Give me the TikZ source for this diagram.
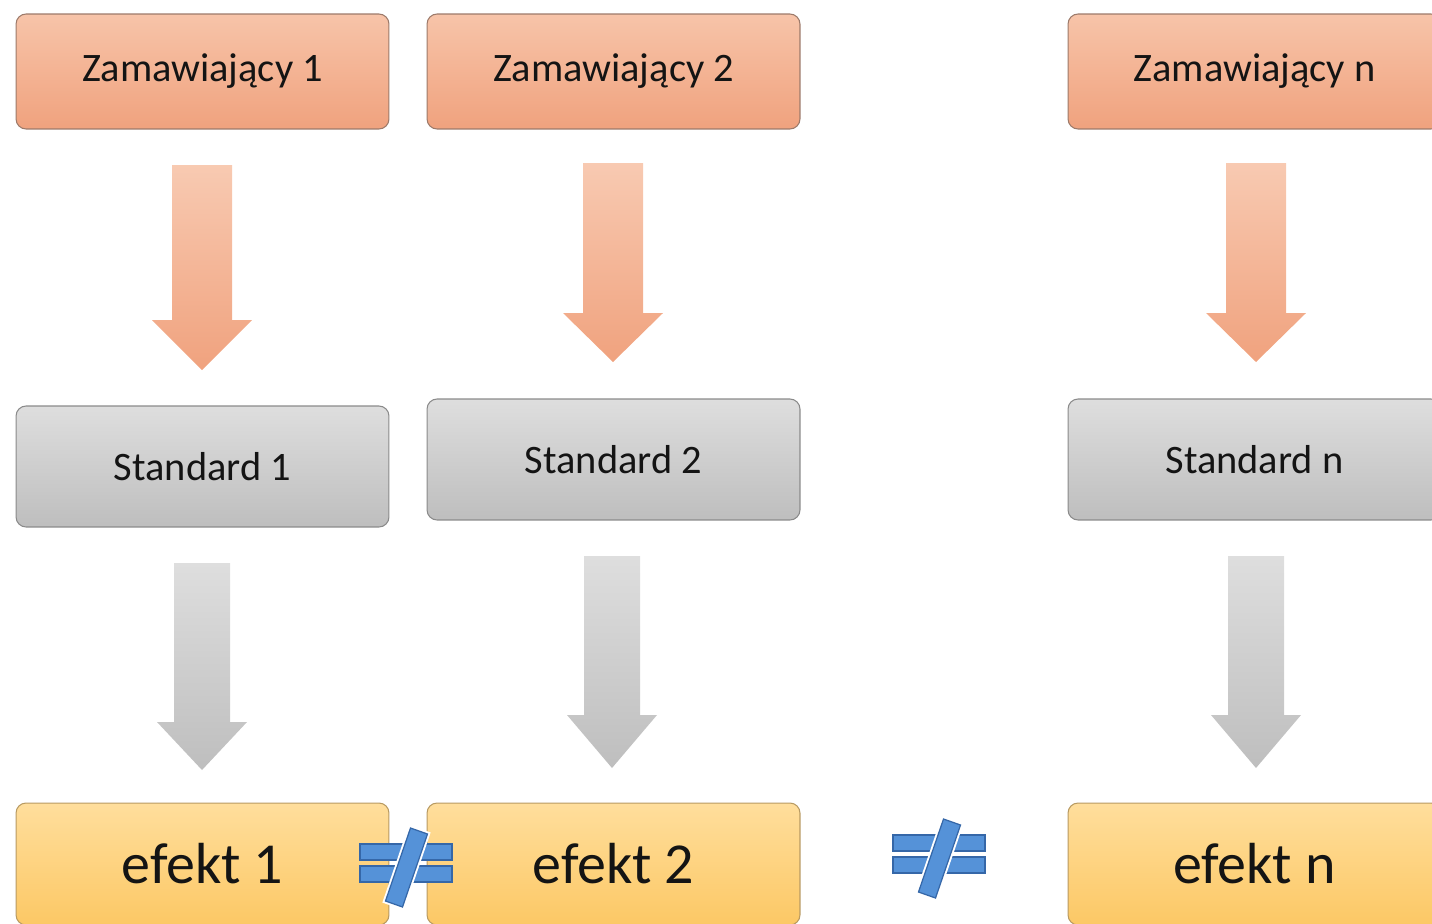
\documentclass[tikz,border=0pt]{standalone}
\usepackage{fontspec}
\setmainfont{Carlito}
\definecolor{zamtop}{HTML}{F7C4A9}
\definecolor{zambot}{HTML}{F0A27E}
\definecolor{zamline}{HTML}{9C7A6A}
\definecolor{stdtop}{HTML}{DEDEDE}
\definecolor{stdbot}{HTML}{BEBEBE}
\definecolor{stdline}{HTML}{8A8A8A}
\definecolor{eftop}{HTML}{FFDE9C}
\definecolor{efbot}{HTML}{FCC865}
\definecolor{efline}{HTML}{B89A62}
\definecolor{neqfill}{HTML}{5592D8}
\definecolor{neqline}{HTML}{3567A8}
% block arrow: style, x, y top, y tip, half shaft, half head, head length
\newcommand{\blockarrow}[7]{%
  \path[#1] (#2-#5,#3) -- (#2+#5,#3) -- (#2+#5,#4-#7) -- (#2+#6,#4-#7)
    -- (#2,#4) -- (#2-#6,#4-#7) -- (#2-#5,#4-#7) -- cycle;}
% not equal sign at x, y
\newcommand{\neqsign}[2]{%
  \begin{scope}[shift={(#1,#2)}]
    \draw[neqpart] (-46,-19) rectangle (46,-3);
    \draw[neqpart] (-46,3) rectangle (46,19);
    \draw[white, line width=0.1cm] (21.5,-29) -- (4.5,-35) -- (-20.5,38) -- (-3.5,44) -- cycle;
    \draw[neqpart] (21.5,-29) -- (4.5,-35) -- (-20.5,38) -- (-3.5,44) -- cycle;
  \end{scope}}
\begin{document}
\begin{tikzpicture}[x=0.02cm, y=-0.02cm,
  box/.style={rectangle, rounded corners=0.2cm, minimum width=7.46cm, line width=0.6pt, text=black!92},
  zambox/.style={box, draw=zamline, top color=zamtop, bottom color=zambot, minimum height=2.3cm, font=\fontsize{23}{27}\selectfont},
  stdbox/.style={box, draw=stdline, top color=stdtop, bottom color=stdbot, minimum height=2.42cm, font=\fontsize{23}{27}\selectfont},
  efbox/.style={box, draw=efline, top color=eftop, bottom color=efbot, minimum height=2.44cm, font=\fontsize{33}{38}\selectfont},
  zamarrow/.style={top color=zamtop!90!white, bottom color=zambot},
  stdarrow/.style={top color=stdtop, bottom color=stdbot},
  neqpart/.style={fill=neqfill, draw=neqline, line width=0.7pt}]
  \useasboundingbox (0,0) rectangle (1432,923);
  \clip (0,0) rectangle (1432,923);
  % customers
  \node[zambox] (z1) at (202.5,71.5) {Zamawiający 1};
  \node[zambox] (z2) at (613.5,71.5) {Zamawiający 2};
  \node[zambox] (zn) at (1254.5,71.5) {Zamawiający n};
  % standards
  \node[stdbox] (s1) at (202.5,466.5) {Standard 1};
  \node[stdbox] (s2) at (613.5,459.5) {Standard 2};
  \node[stdbox] (sn) at (1254.5,459.5) {Standard n};
  % effects
  \node[efbox] (e1) at (202.5,864) {efekt 1};
  \node[efbox] (e2) at (613.5,864) {efekt 2};
  \node[efbox] (en) at (1254.5,864) {efekt n};
  % arrows
  \blockarrow{zamarrow}{202}{165}{370}{30}{50}{50}
  \blockarrow{zamarrow}{613}{163}{362}{30}{50}{49}
  \blockarrow{zamarrow}{1256}{163}{362}{30}{50}{49}
  \blockarrow{stdarrow}{202}{563}{770}{28}{45}{48}
  \blockarrow{stdarrow}{612}{556}{768}{28}{45}{53}
  \blockarrow{stdarrow}{1256}{556}{768}{28}{45}{53}
  % not equal
  \neqsign{406}{863}
  \neqsign{939}{854}
\end{tikzpicture}
\end{document}
